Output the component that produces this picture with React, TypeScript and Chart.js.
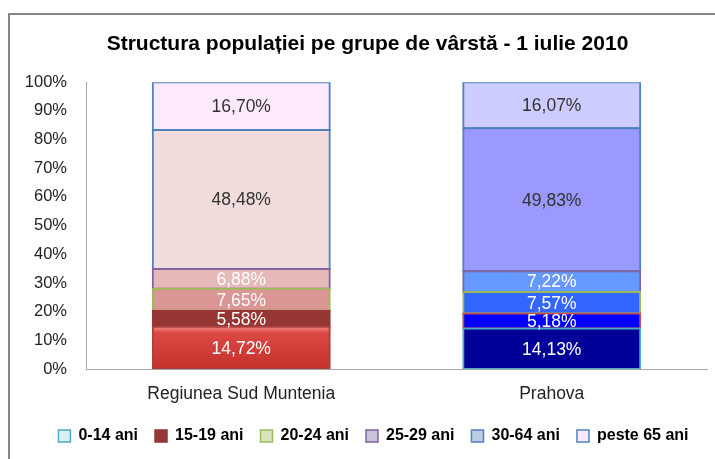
import React, { useEffect, useRef } from "react";
import { Chart, registerables } from "chart.js";

Chart.register(...registerables);

const categories = ["Regiunea Sud Muntenia", "Prahova"];
const seriesNames = ["0-14 ani", "15-19 ani", "20-24 ani", "25-29 ani", "30-64 ani", "peste 65 ani"];
const v0_14 = [14.72, 14.13];
const v15_19 = [5.58, 5.18];
const v20_24 = [7.65, 7.57];
const v25_29 = [6.88, 7.22];
const v30_64 = [48.48, 49.83];
const v65 = [16.7, 16.07];
const yTicks = [0, 10, 20, 30, 40, 50, 60, 70, 80, 90, 100];

const seriesValues = [v0_14, v15_19, v20_24, v25_29, v30_64, v65];
const fills = [
  ["#d0403c", "#000099"],
  ["#963634", "#0000ff"],
  ["#d99694", "#3366ff"],
  ["#e6b9b8", "#6699ff"],
  ["#f2dcdb", "#9999ff"],
  ["#fde9fd", "#ccccff"],
];
const borders = [
  ["#a8403c", "#4bacc6"],
  ["#963634", "#c0504d"],
  ["#9bbb59", "#9bbb59"],
  ["#8064a2", "#8064a2"],
  ["#4f81bd", "#4f81bd"],
  ["#4f81bd", "#4f81bd"],
];
const legendFill = ["#dbeef4", "#953735", "#d7e4bd", "#ccc1da", "#b9cde5", "#fde9fd"];
const legendStroke = ["#4bacc6", "#953735", "#9bbb59", "#8064a2", "#4f81bd", "#4f81bd"];
const labelColors = ["#ffffff", "#ffffff", "#ffffff", "#ffffff", "#333333", "#333333"];

const FONT = "'Liberation Sans', Arial, sans-serif";

const frame = {
  id: "frame",
  beforeDraw(chart: any) {
    const ctx = chart.ctx;
    ctx.save();
    ctx.fillStyle = "#ffffff";
    ctx.fillRect(0, 0, chart.width, chart.height);
    ctx.strokeStyle = "#868686";
    ctx.lineWidth = 2;
    ctx.strokeRect(9, 14, chart.width + 20, chart.height + 20);
    ctx.restore();
  },
};

const shiftBlocks = {
  id: "shiftBlocks",
  afterLayout(chart: any) {
    if (chart.legend) {
      chart.legend.left += 10;
      chart.legend.right += 10;
    }
    if (chart.titleBlock) {
      chart.titleBlock.left += 4;
      chart.titleBlock.right += 4;
    }
  },
};

const valueLabels = {
  id: "valueLabels",
  afterDatasetsDraw(chart: any) {
    const ctx = chart.ctx;
    ctx.save();
    ctx.font = "17.5px " + FONT;
    ctx.textAlign = "center";
    ctx.textBaseline = "middle";
    chart.data.datasets.forEach((ds: any, di: number) => {
      const meta = chart.getDatasetMeta(di);
      meta.data.forEach((el: any, i: number) => {
        const v = ds.data[i];
        const cy = (el.y + el.base) / 2;
        ctx.fillStyle = labelColors[di];
        ctx.fillText(v.toFixed(2).replace(".", ",") + "%", el.x, cy + 1);
      });
    });
    ctx.restore();
  },
};

function fillFor(di: number) {
  return (c: any) => {
    const base = fills[di][c.dataIndex];
    if (di !== 0 || c.dataIndex !== 0) return base;
    const ys = c.chart.scales && c.chart.scales.y;
    if (!ys || !c.chart.chartArea) return base;
    const top = ys.getPixelForValue(seriesValues[0][0]);
    const bot = ys.getPixelForValue(0);
    if (!isFinite(top) || !isFinite(bot)) return base;
    const g = c.chart.ctx.createLinearGradient(0, top, 0, bot);
    g.addColorStop(0, "#f08a85");
    g.addColorStop(0.14, "#dc4843");
    g.addColorStop(1, "#c4312d");
    return g;
  };
}

export default function App() {
  const ref = useRef<HTMLCanvasElement>(null);
  useEffect(() => {
    const canvas = ref.current!;
    const chart = new Chart(canvas, {
      type: "bar",
      data: {
        labels: categories,
        datasets: seriesValues.map((vals, i) => ({
          label: seriesNames[i],
          data: vals,
          backgroundColor: fillFor(i),
          borderColor: borders[i],
          borderWidth: 2,
          borderSkipped: false,
          inflateAmount: 1,
          barPercentage: 0.57,
          categoryPercentage: 1,
        })),
      },
      options: {
        animation: false,
        responsive: true,
        maintainAspectRatio: false,
        layout: { padding: { top: 32, left: 20, right: 8, bottom: 5 } },
        plugins: {
          tooltip: { enabled: false },
          title: {
            display: true,
            text: "Structura populației pe grupe de vârstă - 1 iulie 2010",
            color: "#000000",
            font: { family: FONT, size: 21, weight: "bold" },
            padding: { top: 0, bottom: 25 },
          },
          legend: {
            position: "bottom",
            labels: {
              color: "#000000",
              font: { family: FONT, size: 16, weight: "bold" },
              boxWidth: 12,
              boxHeight: 12,
              padding: 17,
              generateLabels: () =>
                seriesNames.map((n, i) => ({
                  text: n,
                  fillStyle: legendFill[i],
                  strokeStyle: legendStroke[i],
                  lineWidth: 1.5,
                  datasetIndex: i,
                  hidden: false,
                })),
            },
          },
        },
        scales: {
          x: {
            stacked: true,
            grid: { display: false, drawTicks: false },
            border: { display: true, color: "#a6a6a6", width: 1 },
            ticks: {
              color: "#222222",
              font: { family: FONT, size: 17.5 },
              padding: 15,
            },
            afterFit: (s: any) => {
              s.height = 42;
            },
          },
          y: {
            stacked: true,
            min: 0,
            max: 100,
            grid: { display: false, drawTicks: false },
            border: { display: true, color: "#a6a6a6", width: 1 },
            afterBuildTicks: (s: any) => {
              s.ticks = yTicks.map((v) => ({ value: v }));
            },
            ticks: {
              color: "#222222",
              font: { family: FONT, size: 16.5 },
              padding: 19,
              callback: (v: any) => v + "%",
            },
            afterFit: (s: any) => {
              s.width = 66;
            },
          },
        },
      },
      plugins: [frame, shiftBlocks, valueLabels],
    });
    return () => chart.destroy();
  }, []);
  return (
    <div style={{ position: "absolute", left: 0, top: 0, width: 715, height: 459 }}>
      <canvas ref={ref} />
    </div>
  );
}
